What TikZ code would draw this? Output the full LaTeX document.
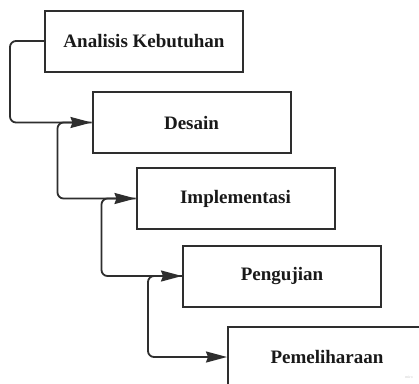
\documentclass[tikz,border=0pt]{standalone}
\usepackage{fontspec}
\setmainfont{Liberation Serif}
\usetikzlibrary{arrows.meta}
\definecolor{linegray}{HTML}{2E2E2E}
\begin{document}
\begin{tikzpicture}[
    x=1pt, y=-1pt,
    phase/.style={rectangle, draw=linegray, line width=2pt, minimum width=198pt, minimum height=61pt, text=black!90, font=\fontsize{19}{21}\selectfont\bfseries, inner sep=0pt},
    flow/.style={draw=linegray, line width=1.8pt, rounded corners=6pt, -{Stealth[length=21pt, width=11pt, inset=2pt]}}
  ]
    \clip (0,0) rectangle (419,383);
    \fill[white] (0,0) rectangle (419,383);

    % Phases
    \node[phase] (analisis) at (144,41) {Analisis Kebutuhan};
    \node[phase] (desain) at (191.5,122.5) {Desain};
    \node[phase] (implementasi) at (235.5,198.5) {Implementasi};
    \node[phase] (pengujian) at (282,276) {Pengujian};
    \node[phase] (pemeliharaan) at (327,357) {Pemeliharaan};

    % Arrows
    \foreach \a/\b in {analisis/desain, desain/implementasi, implementasi/pengujian, pengujian/pemeliharaan} {
      \draw[flow] (\a.west) -- ++(-34,0) |- (\b.west);
    }

    \node[text=black!20, font=\fontsize{4}{4}\selectfont] (miro) at (409,377) {miro};
  \end{tikzpicture}
\end{document}
